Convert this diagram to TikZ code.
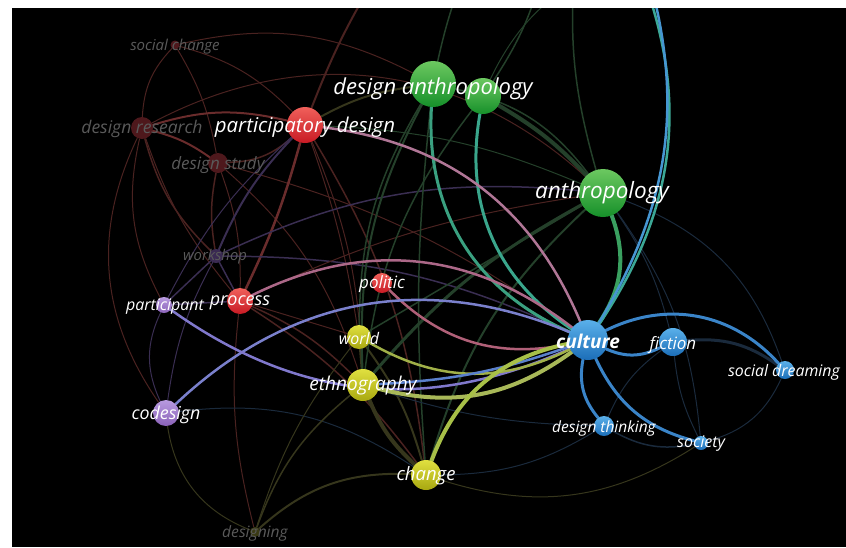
\documentclass[tikz,border=0pt]{standalone}
\usepackage{fontspec}
\setmainfont{Open Sans}
\pgfdeclarelayer{back}
\pgfdeclarelayer{edges}
\pgfsetlayers{back,edges,main}
\newcommand\kwfont[1]{\fontsize{#1}{#1}\selectfont\itshape}
\definecolor{redT}{HTML}{F0605A}
\definecolor{redB}{HTML}{C81A24}
\definecolor{grnT}{HTML}{6CC860}
\definecolor{grnB}{HTML}{16902A}
\definecolor{bluT}{HTML}{5AB0EA}
\definecolor{bluB}{HTML}{1C6EB8}
\definecolor{yelT}{HTML}{E0E040}
\definecolor{yelB}{HTML}{A8A810}
\definecolor{purT}{HTML}{B89AE0}
\definecolor{purB}{HTML}{8A62B8}
\definecolor{dimred}{HTML}{4E181C}
\definecolor{dimpur}{HTML}{3A2A52}
\definecolor{dimolv}{HTML}{3A3A14}
\definecolor{dimtext}{HTML}{5A5A5A}
\definecolor{fRed}{HTML}{4A2220}
\definecolor{fRed2}{HTML}{6A2C2C}
\definecolor{fGrn}{HTML}{24402A}
\definecolor{fOlv}{HTML}{36361C}
\definecolor{fBlu}{HTML}{1A2A3C}
\definecolor{fPur}{HTML}{3A2E52}
\begin{document}
\begin{tikzpicture}[x=1pt,y=-1pt,
  kw/.style={circle,inner sep=0pt,minimum size=#1},
  cred/.style={top color=redT,bottom color=redB},
  cgrn/.style={top color=grnT,bottom color=grnB},
  cblu/.style={top color=bluT,bottom color=bluB},
  cyel/.style={top color=yelT,bottom color=yelB},
  cpur/.style={top color=purT,bottom color=purB},
  lbl/.style={text=white,inner sep=0pt,font=\kwfont{#1}},
  dimlbl/.style={text=dimtext,inner sep=0pt,font=\kwfont{#1}},
  ed/.style={line cap=round},
  fe/.style={line cap=round,line width=#1},
  fe/.default=1pt]
\useasboundingbox (0,0) rectangle (846,547);
\begin{pgfonlayer}{back}
\fill[white] (0,0) rectangle (846,547);
\fill[black] (12,8) rectangle (846,547);
\end{pgfonlayer}

% keyword circles
\node[kw=9,fill=dimred] (sc) at (175,45) {};
\node[kw=22,fill=dimred] (dr) at (142,128) {};
\node[kw=36,cred] (pd) at (305,125) {};
\node[kw=20,fill=dimred] (ds) at (218,163) {};
\node[kw=46,cgrn] (da1) at (433,84) {};
\node[kw=36,cgrn] (da2) at (483,96) {};
\node[kw=48,cgrn] (an) at (603,193) {};
\node[kw=14,fill=dimpur] (ws) at (216,256) {};
\node[kw=16,cpur] (pa) at (164,305) {};
\node[kw=26,cred] (pr) at (240,301) {};
\node[kw=20,cred] (po) at (382,283) {};
\node[kw=24,cyel] (wo) at (359,337) {};
\node[kw=32,cyel] (et) at (363,385) {};
\node[kw=26,cpur] (cd) at (166,413) {};
\node[kw=30,cyel] (ch) at (426,475) {};
\node[kw=10,fill=dimolv] (dg) at (255,532) {};
\node[kw=40,cblu] (cu) at (588,340) {};
\node[kw=28,cblu] (fi) at (673,342) {};
\node[kw=18,cblu] (sd) at (785,370) {};
\node[kw=20,cblu] (dt) at (604,426) {};
\node[kw=14,cblu] (so) at (701,443) {};
\coordinate (tA) at (470,-40);
\coordinate (tB) at (545,-40);
\coordinate (tC) at (575,-40);
\coordinate (tD) at (380,-30);
\coordinate (tE) at (636,-40);
\coordinate (tF) at (644,-40);

\begin{pgfonlayer}{edges}
\clip (12,8) rectangle (846,547);
% faint links
\draw[fe,fRed] (sc) to[bend right=20] (dr);
\draw[fe,fRed] (sc) to[bend left=10] (ds);
\draw[fe,fRed] (sc) to[bend left=15] (pd);
\draw[fe,fRed] (sc) to[bend left=20] (da1);
\draw[fe,fRed] (dr) to[bend left=35] (an);
\draw[fe=2,fRed2] (dr) to[bend left=15] (pd);
\draw[fe=2,fRed2] (dr) to[bend left=10] (ds);
\draw[fe=1.5,fRed] (dr) to[bend right=15] (ws);
\draw[fe,fRed] (dr) to[bend right=10] (pr);
\draw[fe,fRed] (dr) to[bend right=30] (cd);
\draw[fe,fRed] (dr) to[bend right=20] (pa);
\draw[fe=1.5,fRed] (ds) to[bend right=20] (pd);
\draw[fe=1.5,fRed] (ds) to[bend right=10] (ws);
\draw[fe,fRed] (ds) to[bend left=10] (pr);
\draw[fe,fRed] (ds) to[bend left=15] (et);
\draw[fe,fRed] (ds) to[bend left=10] (cu);
\draw[fe=2.5,fRed2] (pd) to[bend left=5] (pr);
\draw[fe=2,fPur] (pd) to[bend right=10] (ws);
\draw[fe,fPur] (pd) to[bend right=10] (pa);
\draw[fe=2,fOlv] (pd) to[bend left=10] (da1);
\draw[fe,fGrn] (pd) to[bend left=10] (an);
\draw[fe,fRed] (pd) to[bend left=10] (et);
\draw[fe=1.5,fRed] (pd) to[bend left=12] (ch);
\draw[fe,fRed] (pd) to[bend left=5] (wo);
\draw[fe=2,fRed] (pd) to[bend left=5] (tD);
\draw[fe=1.5,fPur] (ws) to (pa);
\draw[fe=1.5,fPur] (ws) to (pr);
\draw[fe,fPur] (ws) to[bend right=10] (cd);
\draw[fe=1.5,fPur] (ws) to[bend left=15] (an);
\draw[fe=1.5,fPur] (ws) to[bend left=12] (cu);
\draw[fe,fPur] (pa) to[bend right=25] (cd);
\draw[fe=1.5,fPur] (pa) to (pr);
\draw[fe=1.5,fRed] (pr) to[bend left=10] (et);
\draw[fe=1.5,fRed] (pr) to[bend left=10] (ch);
\draw[fe,fRed] (pr) to (wo);
\draw[fe,fRed] (pr) to[bend right=10] (dg);
\draw[fe,fRed] (pr) to[bend left=8] (an);
\draw[fe,fOlv] (cd) to[bend right=30] (dg);
\draw[fe,fBlu] (cd) to[bend left=20] (ch);
\draw[fe=1.5,fOlv] (dg) to[bend left=15] (et);
\draw[fe=2,fOlv] (dg) to[bend left=22] (ch);
\draw[fe,fOlv] (dg) to[bend left=10] (wo);
\draw[fe=4,fOlv] (et) to[bend right=12] (ch);
\draw[fe=2,fOlv] (wo) to (et);
\draw[fe=2,fOlv] (wo) to[bend left=10] (ch);
\draw[fe=2,fGrn] (da1) to[bend right=15] (et);
\draw[fe=1.5,fGrn] (da1) to[bend right=15] (wo);
\draw[fe=1.5,fGrn] (da2) to[bend right=15] (et);
\draw[fe=4,fGrn] (da2) to[bend left=8] (an);
\draw[fe=1.5,fGrn] (da1) to[bend left=20] (an);
\draw[fe=3,fGrn] (an) to[bend right=10] (et);
\draw[fe=2,fGrn] (an) to[bend right=15] (ch);
\draw[fe=1.5,fGrn] (an) to (wo);
\draw[fe=1.5,fGrn] (da1) to[bend right=5] (ch);
\draw[fe=1.5,fGrn] (da1) to[bend left=5] (tA);
\draw[fe=1.5,fGrn] (da2) to[bend right=10] (tB);
\draw[fe=1.5,fGrn] (an) to[bend left=10] (tC);
\draw[fe,fGrn] (da2) to[bend left=25] (tE);
\draw[fe,fBlu] (an) to[bend left=25] (sd);
\draw[fe,fBlu] (an) to[bend left=15] (so);
\draw[fe,fBlu] (an) to[bend left=10] (fi);
\draw[fe,fBlu] (fi) to[bend right=10] (so);
\draw[fe,fBlu] (fi) to[bend right=15] (dt);
\draw[fe,fBlu] (sd) to[bend left=25] (so);
\draw[fe=1.5,fBlu] (dt) to[bend right=20] (so);
\draw[fe,fOlv] (ch) to[bend right=25] (so);
\draw[fe,fBlu] (ch) to[bend right=15] (dt);
\draw[fe,fBlu] (et) to[bend right=8] (dt);
\draw[fe=3,fBlu] (fi) to[bend left=20] (sd);
% strong links to culture
\draw[ed,line width=3pt,color={rgb,255:red,58;green,160;blue,128}] (da1) to[bend right=35] (cu);
\draw[ed,line width=3pt,color={rgb,255:red,58;green,166;blue,140}] (da2) to[bend right=33] (cu);
\draw[ed,line width=4pt,color={rgb,255:red,58;green,160;blue,96}] (an) to[bend left=27] (cu);
\draw[ed,line width=2.5pt,color={rgb,255:red,60;green,168;blue,150}] (cu) to[bend right=28] (tE);
\draw[ed,line width=2.5pt,color={rgb,255:red,70;green,150;blue,210}] (cu) to[bend right=24] (tF);
\draw[ed,line width=2.5pt,color={rgb,255:red,176;green,118;blue,150}] (pd) to[bend left=30] (cu);
\draw[ed,line width=2.5pt,color={rgb,255:red,172;green,104;blue,136}] (pr) to[bend left=32] (cu);
\draw[ed,line width=2.5pt,color={rgb,255:red,176;green,96;blue,120}] (po) to[bend right=28] (cu);
\draw[ed,line width=2.5pt,color={rgb,255:red,122;green,128;blue,204}] (cd) to[bend left=33] (cu);
\draw[ed,line width=2.5pt,color={rgb,255:red,128;green,120;blue,204}] (pa) to[bend right=30] (cu);
\draw[ed,line width=2.5pt,color={rgb,255:red,160;green,176;blue,72}] (wo) to[bend right=28] (cu);
\draw[ed,line width=4pt,color={rgb,255:red,168;green,184;blue,88}] (et) to[bend right=25] (cu);
\draw[ed,line width=2.5pt,color={rgb,255:red,90;green,128;blue,204}] (et) to[bend right=8] (cu);
\draw[ed,line width=4pt,color={rgb,255:red,168;green,192;blue,72}] (ch) to[bend left=29] (cu);
\draw[ed,line width=3pt,color={rgb,255:red,58;green,132;blue,200}] (cu) to[bend right=25] (fi);
\draw[ed,line width=3pt,color={rgb,255:red,58;green,132;blue,200}] (cu) to[bend left=37] (sd);
\draw[ed,line width=3pt,color={rgb,255:red,58;green,132;blue,200}] (cu) to[bend right=25] (dt);
\draw[ed,line width=3pt,color={rgb,255:red,58;green,132;blue,200}] (cu) to[bend right=25] (so);
\end{pgfonlayer}

% labels
\node[dimlbl=15] (sc-l) at (175,47) {social change};
\node[dimlbl=17.5] (dr-l) at (142,129) {design research};
\node[lbl=20.4] (pd-l) at (305,127) {participatory design};
\node[dimlbl=17] (ds-l) at (218,165) {design study};
\node[lbl=22] (da-l) at (433,89) {design anthropology};
\node[lbl=22.5] (an-l) at (602,193) {anthropology};
\node[dimlbl=14.8] (ws-l) at (215,257) {workshop};
\node[lbl=16] (pa-l) at (165,307) {participant};
\node[lbl=18] (pr-l) at (240,303) {process};
\node[lbl=17] (po-l) at (382,284) {politic};
\node[lbl=16] (wo-l) at (359,338) {world};
\node[lbl=19] (et-l) at (363,386) {ethnography};
\node[lbl=17.8] (cd-l) at (166,415) {codesign};
\node[lbl=18.5] (ch-l) at (426,476) {change};
\node[dimlbl=15.6] (dg-l) at (255,533) {designing};
\node[lbl=19,font=\kwfont{19}\bfseries] (cu-l) at (588,341) {culture};
\node[lbl=17] (fi-l) at (673,345) {fiction};
\node[lbl=15.9] (sd-l) at (784,372) {social dreaming};
\node[lbl=15.5] (dt-l) at (604,428) {design thinking};
\node[lbl=16] (so-l) at (701,444) {society};
\end{tikzpicture}
\end{document}
